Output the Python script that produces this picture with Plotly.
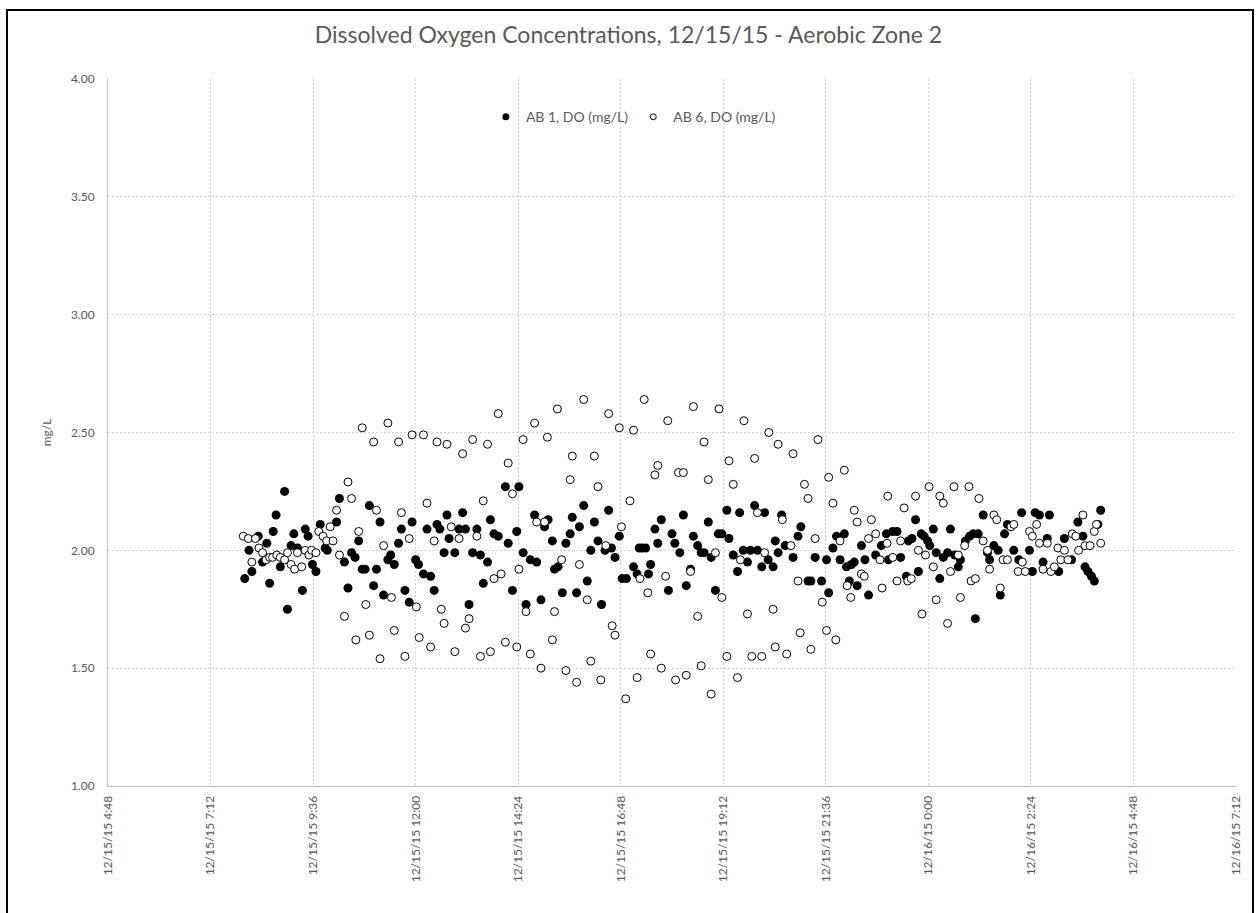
import pandas as pd
import plotly.graph_objects as go

# Sample times as minutes after 12/15/15 00:00, dissolved oxygen in mg/L
ab1_min = [480, 486, 490, 499, 505, 511, 515, 520, 524, 530, 536, 540, 545, 549, 554, 561, 565, 569, 575, 580,
           586, 593, 596, 609, 613,
           620, 625, 630, 635, 640, 645, 649, 655, 661, 665, 670, 675, 681, 685, 690, 696, 700, 705, 711, 715,
           720, 724, 731, 736, 741, 746, 750, 754, 760, 764, 767,
           775, 781, 786, 790, 795, 800, 806, 811, 815, 821, 825, 830, 836, 846, 850, 856, 862, 865, 871, 875,
           881, 887, 890, 896, 901, 906, 912, 915, 920,
           926, 931, 937, 940, 946, 950, 956, 961, 966, 971, 976, 981, 986, 991, 995, 1000, 1006, 1010, 1016,
           1026, 1031, 1034, 1038, 1043, 1047, 1050, 1056, 1060, 1065, 1075,
           1080, 1084, 1091, 1096, 1100, 1106, 1110, 1116, 1121, 1125, 1131, 1135, 1141, 1145, 1150, 1157, 1160,
           1166, 1172, 1175, 1180, 1186, 1190, 1196, 1200, 1206, 1210, 1215, 1222, 1225, 1229,
           1234, 1239, 1250, 1257, 1261, 1271, 1275, 1281, 1290, 1297, 1300, 1306, 1311, 1316, 1322, 1325, 1329,
           1332, 1336, 1340, 1346, 1351, 1356, 1366, 1374, 1381, 1384,
           1390, 1396, 1401, 1409, 1412, 1417, 1422, 1426, 1430, 1434, 1439, 1442, 1447, 1451, 1456, 1461, 1467,
           1471, 1477, 1482, 1485, 1492, 1498, 1503, 1506, 1510, 1517, 1523, 1526, 1532, 1538,
           1541, 1547, 1551, 1560, 1567, 1571, 1582, 1586, 1590, 1596, 1601, 1607, 1610, 1623, 1631, 1641, 1650,
           1657, 1660, 1664, 1669, 1673, 1678, 1682]
ab1_do = [1.88, 2.00, 1.91, 2.06, 1.95, 2.03, 1.86, 2.08, 2.15, 1.93, 2.25, 1.75, 2.02, 2.07, 2.01, 1.83, 2.09, 2.06, 1.94, 1.91,
          2.11, 2.01, 2.00, 2.12, 2.22,
          1.95, 1.84, 1.99, 1.97, 2.04, 1.92, 1.92, 2.19, 1.85, 1.92, 2.12, 1.81, 1.96, 1.98, 1.94, 2.03, 2.09, 1.83, 1.78, 2.12,
          1.96, 1.94, 1.90, 2.09, 1.89, 1.83, 2.11, 2.09, 1.99, 2.15, 2.05,
          1.99, 2.09, 2.16, 2.09, 1.77, 1.99, 2.09, 1.98, 1.86, 1.95, 2.13, 2.07, 2.06, 2.27, 2.03, 1.83, 2.08, 2.27, 1.99, 1.77,
          1.96, 2.15, 1.95, 1.79, 2.10, 2.13, 2.04, 1.92, 1.93,
          1.82, 2.03, 2.07, 2.14, 1.82, 2.10, 2.19, 1.87, 2.00, 2.12, 2.04, 1.77, 2.00, 2.17, 2.01, 1.97, 2.06, 1.88, 1.88,
          1.93, 1.90, 2.01, 2.01, 2.01, 1.90, 1.94, 2.09, 2.03, 2.13, 1.83,
          2.07, 2.03, 1.99, 2.15, 1.85, 1.92, 2.06, 2.02, 1.99, 1.99, 2.12, 1.97, 1.83, 2.07, 2.07, 2.17, 2.05,
          1.98, 1.91, 2.16, 2.00, 1.95, 2.00, 2.19, 2.00, 1.93, 2.16, 1.96, 1.93, 2.04, 1.99,
          2.15, 2.02, 1.97, 2.06, 2.10, 1.87, 1.87, 1.97, 1.87, 1.96, 1.82, 2.01, 2.06, 1.96, 2.07, 1.93, 1.87,
          1.94, 1.95, 1.85, 2.02, 1.96, 1.81, 1.98, 2.02, 2.07, 1.96,
          2.08, 2.08, 1.97, 1.89, 2.04, 2.05, 2.13, 1.91, 2.07, 2.06, 2.04, 2.02, 2.09, 1.99, 1.88, 1.97, 1.99,
          2.09, 1.98, 1.93, 1.96, 2.04, 2.06, 2.07, 1.71, 2.07, 2.15, 1.99, 1.96, 2.02, 2.00,
          1.81, 2.07, 2.11, 2.00, 1.96, 2.16, 2.00, 1.91, 2.16, 2.15, 1.95, 2.05, 2.15, 1.91, 2.05, 1.96, 2.12,
          2.06, 1.93, 1.91, 1.89, 1.87, 2.11, 2.17]

ab6_min = [478, 485, 490, 495, 500, 505, 510, 515, 519, 525, 530, 536, 540, 545, 550, 554, 560, 565, 570, 574,
           580, 584, 590, 595, 600, 604, 609, 613,
           620, 625, 630, 636, 640, 645, 650, 655, 661, 665, 670, 675, 681, 686, 690, 696, 700, 705, 711, 715,
           721, 725, 731, 736, 741, 746, 750, 756, 760, 764,
           770, 775, 781, 786, 790, 795, 800, 806, 811, 815, 821, 825, 830, 836, 840, 846, 850, 856, 862, 865,
           871, 875, 881, 887, 890, 896, 901, 905, 912, 915, 919,
           925, 931, 937, 940, 946, 950, 956, 961, 966, 971, 976, 980, 987, 991, 996, 1000, 1006, 1009, 1015,
           1021, 1026, 1031, 1035, 1041, 1046, 1050, 1056, 1060, 1065, 1071, 1074,
           1085, 1089, 1096, 1100, 1106, 1110, 1116, 1121, 1125, 1131, 1135, 1141, 1146, 1150, 1157, 1160, 1166,
           1172, 1176, 1181, 1186, 1192, 1196, 1200, 1206, 1210, 1216, 1222, 1225, 1229,
           1235, 1241, 1247, 1250, 1257, 1260, 1266, 1271, 1275, 1281, 1285, 1291, 1297, 1300, 1306, 1310, 1316,
           1322, 1326, 1331, 1336, 1340, 1346, 1350, 1356, 1360, 1366, 1372, 1375, 1382, 1383,
           1390, 1396, 1401, 1406, 1411, 1416, 1422, 1426, 1431, 1436, 1441, 1447, 1451, 1456, 1461, 1467, 1471,
           1476, 1482, 1485, 1491, 1497, 1500, 1506, 1511, 1517, 1523, 1526, 1532, 1536,
           1541, 1545, 1551, 1556, 1560, 1566, 1572, 1576, 1582, 1586, 1592, 1596, 1601, 1607, 1612, 1617, 1622,
           1626, 1631, 1636, 1642, 1647, 1651, 1657, 1660, 1667, 1673, 1676, 1682]
ab6_do = [2.06, 2.05, 1.95, 2.05, 2.01, 1.99, 1.96, 1.97, 1.97, 1.98, 1.97, 1.96, 1.99, 1.94, 1.92, 1.99, 1.93, 2.00, 1.98, 2.00,
          1.99, 2.08, 2.06, 2.04, 2.10, 2.04, 2.17, 1.98,
          1.72, 2.29, 2.22, 1.62, 2.08, 2.52, 1.77, 1.64, 2.46, 2.17, 1.54, 2.02, 2.54, 1.80, 1.66, 2.46, 2.16, 1.55, 2.05, 2.49,
          1.76, 1.63, 2.49, 2.20, 1.59, 2.04, 2.46, 1.75, 1.69, 2.45,
          2.10, 1.57, 2.05, 2.41, 1.67, 1.71, 2.47, 2.06, 1.55, 2.21, 2.45, 1.57, 1.88, 2.58, 1.90, 1.61, 2.37, 2.24, 1.59, 1.92,
          2.47, 1.74, 1.56, 2.54, 2.12, 1.50, 2.12, 2.48, 1.62, 1.74, 2.60,
          1.96, 1.49, 2.30, 2.40, 1.44, 1.94, 2.64, 1.79, 1.53, 2.40, 2.27, 1.45, 2.02, 2.58, 1.68, 1.64, 2.52, 2.10, 1.37,
          2.21, 2.51, 1.46, 1.88, 2.64, 1.82, 1.56, 2.32, 2.36, 1.50, 1.89, 2.55,
          1.45, 2.33, 2.33, 1.47, 1.91, 2.61, 1.72, 1.51, 2.46, 2.30, 1.39, 1.99, 2.60, 1.80, 1.55, 2.38, 2.28,
          1.46, 1.96, 2.55, 1.73, 1.55, 2.39, 2.16, 1.55, 1.99, 2.50, 1.75, 1.59, 2.45,
          2.13, 1.56, 2.02, 2.41, 1.87, 1.65, 2.28, 2.22, 1.58, 2.05, 2.47, 1.78, 1.66, 2.31, 2.20, 1.62, 2.04,
          2.34, 1.85, 1.80, 2.17, 2.12, 1.90, 1.89, 2.05, 2.13, 2.07, 1.96, 1.84, 2.03, 2.23,
          1.97, 1.87, 2.04, 2.18, 1.87, 1.88, 2.23, 2.00, 1.73, 1.98, 2.27, 1.93, 1.79, 2.23, 2.20, 1.69, 1.91,
          2.27, 1.98, 1.80, 2.02, 2.27, 1.87, 1.88, 2.22, 2.04, 2.00, 1.92, 2.15, 2.13,
          1.84, 1.96, 1.96, 2.10, 2.11, 1.91, 1.95, 1.91, 2.08, 2.06, 2.11, 2.03, 1.92, 2.03, 1.91, 1.93, 2.01,
          1.96, 2.00, 1.96, 2.07, 2.06, 2.00, 2.15, 2.02, 2.02, 2.08, 2.11, 2.03]

# Axis ticks every 2 h 24 min
tick_min = [288, 432, 576, 720, 864, 1008, 1152, 1296, 1440, 1584, 1728, 1872]
tick_text = ["12/15/15 4:48", "12/15/15 7:12", "12/15/15 9:36", "12/15/15 12:00",
             "12/15/15 14:24", "12/15/15 16:48", "12/15/15 19:12", "12/15/15 21:36",
             "12/16/15 0:00", "12/16/15 2:24", "12/16/15 4:48", "12/16/15 7:12"]
y_ticks = [1.0, 1.5, 2.0, 2.5, 3.0, 3.5, 4.0]

day0 = pd.Timestamp("2015-12-15")


def to_time(minutes):
    return [day0 + pd.Timedelta(minutes=m) for m in minutes]


FONT = "Lato, 'Open Sans', sans-serif"
GREY = "#595959"
GRID = "#d4d4d4"

fig = go.Figure()

fig.add_trace(go.Scatter(
    x=to_time(ab1_min), y=ab1_do, mode="markers", name="AB 1, DO (mg/L)",
    marker=dict(symbol="circle", size=9, color="black", line=dict(width=0)),
    showlegend=False,
))
fig.add_trace(go.Scatter(
    x=to_time(ab6_min), y=ab6_do, mode="markers", name="AB 6, DO (mg/L)",
    marker=dict(symbol="circle", size=8, color="white", line=dict(width=1, color="black")),
    showlegend=False,
))

# Legend entries with smaller symbols
fig.add_trace(go.Scatter(
    x=[None], y=[None], mode="markers", name="AB 1, DO (mg/L)",
    marker=dict(symbol="circle", size=7, color="black", line=dict(width=0)),
))
fig.add_trace(go.Scatter(
    x=[None], y=[None], mode="markers", name="AB 6, DO (mg/L)",
    marker=dict(symbol="circle", size=6, color="white", line=dict(width=1, color="black")),
))

tick_times = to_time(tick_min)

fig.update_layout(
    width=1257, height=913,
    margin=dict(l=108, r=21, t=79, b=127),
    paper_bgcolor="white", plot_bgcolor="white",
    font=dict(family=FONT, color=GREY, size=12),
    title=dict(text="Dissolved Oxygen Concentrations, 12/15/15 - Aerobic Zone 2",
               x=0.5, xanchor="center", y=1 - 35 / 913, yanchor="middle",
               font=dict(family=FONT, size=23, color=GREY)),
    legend=dict(orientation="h", x=0.335, xanchor="left", y=0.946, yanchor="middle",
                bgcolor="rgba(0,0,0,0)", font=dict(size=14, color=GREY),
                itemwidth=30, tracegroupgap=0),
    showlegend=True,
    xaxis=dict(
        range=[tick_times[0], tick_times[-1]],
        tickmode="array", tickvals=tick_times, ticktext=tick_text,
        tickangle=-90, ticks="", ticklabelstandoff=4,
        showgrid=True, gridcolor=GRID, gridwidth=1, griddash="2px,2px",
        showline=True, linecolor="#bfbfbf", linewidth=1,
        zeroline=False, tickfont=dict(size=12, color=GREY),
    ),
    yaxis=dict(
        range=[1.0, 4.0], tickmode="array", tickvals=y_ticks,
        tickformat=".2f", ticks="", ticklabelstandoff=10,
        showgrid=True, gridcolor=GRID, gridwidth=1, griddash="2px,2px",
        showline=True, linecolor="#bfbfbf", linewidth=1,
        zeroline=False, tickfont=dict(size=12, color=GREY),
        title=dict(text="mg/L", font=dict(size=12, color=GREY), standoff=16),
    ),
    shapes=[
        # outer frame around the chart
        dict(type="rect", xref="paper", yref="paper",
             x0=(7 - 108) / 1128, x1=(1253 - 108) / 1128,
             y0=(786 - 930) / 707, y1=(786 - 10) / 707,
             line=dict(color="black", width=2), fillcolor="rgba(0,0,0,0)", layer="above"),
    ],
)

fig.write_html("out.html")
